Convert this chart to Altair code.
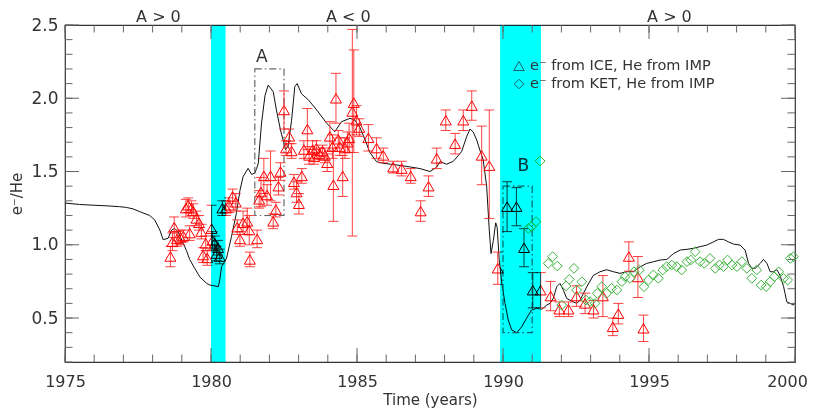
import altair as alt
import pandas as pd

# ---------------- data ----------------
# model curve (black line)
line_year = [1975.00, 1975.5, 1976.0, 1976.5, 1976.87, 1977.1, 1977.33, 1977.56, 1977.9, 1978.07,
             1978.25, 1978.36, 1978.53, 1978.65, 1978.76, 1978.87, 1979.05, 1979.16, 1979.27, 1979.44,
             1979.62, 1979.85, 1979.96, 1980.07, 1980.25, 1980.30, 1980.36, 1980.45, 1980.53, 1980.70,
             1980.87, 1980.99, 1981.10, 1981.27, 1981.39, 1981.50, 1981.56, 1981.62, 1981.73, 1981.85,
             1981.96, 1982.13, 1982.24, 1982.38, 1982.47, 1982.55, 1982.64, 1982.76, 1982.87, 1982.95,
             1983.10, 1983.33, 1983.62, 1983.96, 1984.24, 1984.47, 1984.76, 1984.93, 1985.10, 1985.27,
             1985.44, 1985.67, 1985.90, 1986.24, 1986.70, 1987.16, 1987.50, 1987.73, 1987.84, 1988.07,
             1988.30, 1988.58, 1988.76, 1988.87, 1988.98, 1989.10, 1989.21, 1989.32, 1989.44, 1989.53,
             1989.59, 1989.67, 1989.75, 1989.80, 1989.87, 1989.96, 1990.07, 1990.18, 1990.30, 1990.47,
             1990.64, 1990.81, 1990.98, 1991.15, 1991.33, 1991.50, 1991.61, 1991.72, 1991.84, 1991.95,
             1992.07, 1992.18, 1992.41, 1992.53, 1992.64, 1992.87, 1993.09, 1993.32, 1993.55, 1993.78,
             1994.01, 1994.24, 1994.47, 1994.70, 1994.92, 1995.15, 1995.38, 1995.61, 1995.84, 1996.07,
             1996.30, 1996.52, 1996.75, 1996.98, 1997.21, 1997.38, 1997.55, 1997.72, 1997.89, 1998.12,
             1998.29, 1998.41, 1998.52, 1998.64, 1998.81, 1998.92, 1999.04, 1999.15, 1999.26, 1999.38,
             1999.49, 1999.61, 1999.72, 1999.84, 1999.93, 2000.0]
line_val = [1.285, 1.275, 1.27, 1.265, 1.26, 1.255, 1.245, 1.226, 1.20, 1.17,
            1.10, 1.035, 1.044, 1.10, 1.112, 1.089, 1.01, 0.96, 0.90, 0.84,
            0.78, 0.737, 0.725, 0.722, 0.714, 0.76, 0.85, 0.88, 0.907, 1.055,
            1.214, 1.37, 1.465, 1.522, 1.48, 1.49, 1.52, 1.556, 1.83, 2.02,
            2.09, 2.045, 1.92, 1.783, 1.715, 1.65, 1.67, 1.85, 2.08, 2.10,
            2.03, 1.99, 1.92, 1.83, 1.772, 1.84, 1.863, 1.85, 1.80, 1.72,
            1.63, 1.567, 1.556, 1.548, 1.535, 1.52, 1.50, 1.53, 1.567, 1.55,
            1.57, 1.635, 1.74, 1.79, 1.77, 1.715, 1.645, 1.58, 1.40, 1.10,
            0.94, 1.03, 1.15, 1.12, 0.90, 0.736, 0.60, 0.486, 0.418, 0.40,
            0.44, 0.50, 0.555, 0.566, 0.56, 0.589, 0.60, 0.634, 0.714, 0.736,
            0.69, 0.634, 0.61, 0.60, 0.623, 0.714, 0.79, 0.816, 0.83, 0.816,
            0.805, 0.816, 0.816, 0.85, 0.873, 0.884, 0.896, 0.90, 0.94, 0.964,
            0.969, 0.976, 0.987, 0.998, 1.02, 1.037, 1.037, 1.02, 1.005, 0.998,
            0.964, 0.873, 0.84, 0.84, 0.873, 0.90, 0.873, 0.816, 0.816, 0.83,
            0.79, 0.714, 0.61, 0.60, 0.589, 0.60]

# e- from ICE, He from IMP (red triangles with error bars)
ice_year = [1978.61, 1978.68, 1978.74, 1978.84, 1978.95, 1979.05, 1979.14, 1979.22, 1979.27, 1979.33,
            1979.39, 1979.50, 1979.59, 1979.67, 1979.73, 1979.82, 1979.87, 1980.02, 1980.05, 1980.13,
            1980.19, 1980.24, 1980.30, 1980.39, 1980.51, 1980.62, 1980.74, 1980.85, 1980.90, 1980.99,
            1981.10, 1981.24, 1981.31, 1981.33, 1981.58, 1981.65, 1981.71, 1981.81, 1981.92, 1982.04,
            1982.13, 1982.22, 1982.31, 1982.38, 1982.50, 1982.57, 1982.68, 1982.76, 1982.84, 1982.93,
            1983.01, 1983.11, 1983.18, 1983.30, 1983.36, 1983.48, 1983.53, 1983.61, 1983.71, 1983.82,
            1983.90, 1983.98, 1984.07, 1984.16, 1984.19, 1984.28, 1984.36, 1984.41, 1984.51, 1984.59,
            1984.67, 1984.73, 1984.84, 1984.89, 1984.98, 1985.08, 1985.39, 1985.67, 1985.90, 1986.24,
            1986.53, 1986.84, 1987.18, 1987.45, 1987.73, 1988.04, 1988.36, 1988.64, 1988.93, 1989.27,
            1989.53, 1989.82, 1990.14, 1990.46, 1990.72, 1991.02, 1991.29, 1991.63, 1991.93, 1992.24,
            1992.52, 1992.81, 1993.10, 1993.42, 1993.76, 1993.95, 1994.31, 1994.62, 1994.81]
ice_val = [0.92, 1.02, 1.12, 1.04, 1.05, 1.06, 1.25, 1.27, 1.08, 1.25,
           1.23, 1.18, 1.15, 1.09, 0.93, 1.01, 0.91, 1.11, 1.03, 1.01,
           0.94, 0.98, 0.92, 1.25, 1.25, 1.27, 1.33, 1.29, 1.12, 1.04,
           1.15, 1.16, 1.10, 0.90, 1.04, 1.31, 1.36, 1.47, 1.34, 1.47,
           1.16, 1.24, 1.40, 1.50, 1.92, 1.66, 1.74, 1.64, 1.43, 1.36,
           1.28, 1.47, 1.65, 1.79, 1.61, 1.65, 1.60, 1.66, 1.62, 1.64,
           1.61, 1.56, 1.74, 1.67, 1.41, 2.00, 1.72, 1.67, 1.47, 1.66,
           1.70, 1.73, 1.91, 1.97, 1.85, 1.80, 1.73, 1.66, 1.61, 1.53,
           1.52, 1.47, 1.23, 1.40, 1.59, 1.85, 1.69, 1.85, 1.95, 1.61,
           1.54, 0.84, 1.26, 1.26, 0.98, 0.69, 0.69, 0.65, 0.56, 0.56,
           0.65, 0.60, 0.56, 0.65, 0.44, 0.53, 0.92, 0.78, 0.43]
ice_lo = [0.85, 0.96, 1.05, 0.99, 1.00, 1.02, 1.19, 1.22, 1.03, 1.20,
          1.18, 1.13, 1.10, 1.04, 0.88, 0.96, 0.86, 1.00, 0.97, 0.96,
          0.89, 0.93, 0.87, 1.20, 1.20, 1.22, 1.28, 1.23, 1.07, 0.99,
          1.07, 1.07, 1.00, 0.85, 0.98, 1.25, 1.26, 1.35, 1.27, 1.30,
          1.11, 1.19, 1.34, 1.44, 1.79, 1.61, 1.69, 1.59, 1.38, 1.29,
          1.21, 1.42, 1.59, 1.65, 1.55, 1.59, 1.55, 1.61, 1.58, 1.60,
          1.56, 1.50, 1.64, 1.59, 1.16, 1.83, 1.66, 1.61, 1.33, 1.59,
          1.63, 1.63, 1.06, 1.63, 1.75, 1.74, 1.64, 1.59, 1.56, 1.49,
          1.47, 1.42, 1.16, 1.33, 1.52, 1.78, 1.62, 1.78, 1.85, 1.41,
          1.18, 0.73, 1.09, 1.13, 0.85, 0.57, 0.57, 0.55, 0.51, 0.51,
          0.58, 0.53, 0.50, 0.51, 0.38, 0.46, 0.82, 0.64, 0.34]
ice_hi = [0.99, 1.08, 1.19, 1.09, 1.10, 1.10, 1.31, 1.32, 1.13, 1.30,
          1.28, 1.23, 1.20, 1.14, 0.98, 1.06, 0.96, 1.27, 1.09, 1.06,
          0.99, 1.03, 0.97, 1.30, 1.30, 1.32, 1.38, 1.35, 1.17, 1.09,
          1.23, 1.25, 1.20, 0.95, 1.10, 1.37, 1.46, 1.59, 1.41, 1.64,
          1.21, 1.29, 1.46, 1.56, 2.05, 1.71, 1.79, 1.69, 1.48, 1.43,
          1.35, 1.52, 1.71, 1.93, 1.67, 1.71, 1.65, 1.71, 1.66, 1.68,
          1.66, 1.62, 1.84, 1.75, 1.66, 2.17, 1.78, 1.73, 1.61, 1.73,
          1.77, 1.83, 2.47, 2.33, 1.95, 1.86, 1.82, 1.73, 1.66, 1.57,
          1.57, 1.52, 1.30, 1.47, 1.66, 1.92, 1.76, 1.92, 2.05, 1.81,
          1.92, 0.95, 1.43, 1.39, 1.11, 0.81, 0.81, 0.75, 0.61, 0.61,
          0.72, 0.67, 0.62, 0.79, 0.50, 0.60, 1.02, 0.92, 0.52]

# e- from KET, He from IMP (green diamonds)
ket_year = [1990.87, 1990.98, 1991.13, 1991.27, 1991.55, 1991.70, 1991.86, 1992.01, 1992.16, 1992.27,
            1992.43, 1992.52, 1992.70, 1992.84, 1992.98, 1993.15, 1993.23, 1993.38, 1993.55, 1993.72,
            1993.90, 1994.07, 1994.18, 1994.35, 1994.49, 1994.67, 1994.83, 1994.98, 1995.15, 1995.32,
            1995.47, 1995.61, 1995.78, 1995.95, 1996.12, 1996.30, 1996.43, 1996.58, 1996.75, 1996.89,
            1997.09, 1997.27, 1997.41, 1997.55, 1997.69, 1997.84, 1998.01, 1998.18, 1998.35, 1998.52,
            1998.69, 1998.84, 1999.01, 1999.15, 1999.29, 1999.44, 1999.61, 1999.75, 1999.84, 1999.95]
ket_val = [1.112, 1.123, 1.158, 1.572, 0.873, 0.919, 0.855, 0.589, 0.719, 0.764,
           0.839, 0.691, 0.748, 0.623, 0.612, 0.600, 0.669, 0.714, 0.669, 0.703,
           0.691, 0.748, 0.782, 0.771, 0.816, 0.828, 0.714, 0.759, 0.794, 0.771,
           0.828, 0.851, 0.862, 0.851, 0.828, 0.885, 0.896, 0.953, 0.885, 0.873,
           0.907, 0.839, 0.862, 0.851, 0.896, 0.862, 0.851, 0.885, 0.839, 0.771,
           0.828, 0.725, 0.714, 0.748, 0.782, 0.816, 0.771, 0.759, 0.907, 0.919]

# shaded periods, annotation boxes, polarity labels
band_start = [1980.0, 1989.9]
band_end = [1980.5, 1991.3]
box_name = ["A", "B"]
box_x1 = [1981.5, 1990.0]
box_x2 = [1982.5, 1991.0]
box_y1 = [1.2, 0.4]
box_y2 = [2.2, 1.4]
box_label_x = [1981.74, 1990.7]
box_label_y = [2.28, 1.54]
polarity_text = ["A > 0", "A < 0", "A > 0"]
polarity_year = [1978.2, 1984.7, 1995.7]

x_ticks = [1975, 1980, 1985, 1990, 1995, 2000]
y_ticks = [0.5, 1.0, 1.5, 2.0, 2.5]
x_minor = list(range(1975, 2001))
y_minor = [round(0.2 + 0.1 * i, 1) for i in range(24)]

# ---------------- chart ----------------
W, H = 730, 337
FONT = "DejaVu Sans"
TXT = "#333333"
TICKC = "#666666"
xs = alt.Scale(domain=[1975, 2000], nice=False, zero=False)
ys = alt.Scale(domain=[0.2, 2.5], nice=False, zero=False)

line_df = pd.DataFrame({"year": line_year, "val": line_val})
ice_df = pd.DataFrame({"year": ice_year, "val": ice_val, "lo": ice_lo, "hi": ice_hi})
ket_df = pd.DataFrame({"year": ket_year, "val": ket_val})
band_df = pd.DataFrame({"x1": band_start, "x2": band_end})
box_df = pd.DataFrame({"name": box_name, "x1": box_x1, "x2": box_x2, "y1": box_y1, "y2": box_y2,
                       "lx": box_label_x, "ly": box_label_y})
pol_df = pd.DataFrame({"t": polarity_text, "year": polarity_year})

base_x = alt.X("year:Q", scale=xs, axis=None)
base_y = alt.Y("val:Q", scale=ys, axis=None)

axes = alt.Chart(line_df).mark_line(opacity=0).encode(
    x=alt.X("year:Q", scale=xs, title="Time (years)",
            axis=alt.Axis(values=x_ticks, format="d", tickSize=0, domain=False, grid=False,
                          labelFlush=False, labelOverlap=False,
                          labelOffset={"expr": "datum.value == 2000 ? -8 : 0"},
                          labelFont=FONT, labelFontSize=16, labelColor=TXT, labelPadding=11,
                          titleFont=FONT, titleFontSize=15, titleFontWeight="normal",
                          titleColor=TXT, titlePadding=3)),
    y=alt.Y("val:Q", scale=ys, title="e⁻/He",
            axis=alt.Axis(values=y_ticks, format=".1f", tickSize=0, domain=False, grid=False,
                          labelFlush=False, labelOverlap=False,
                          labelFont=FONT, labelFontSize=17, labelColor=TXT, labelPadding=7,
                          titleFont=FONT, titleFontSize=15, titleFontWeight="normal",
                          titleColor=TXT, titlePadding=6, titleAngle=270)),
)

model = alt.Chart(line_df).mark_line(color="#111111", strokeWidth=1).encode(x=base_x, y=base_y)

boxes = alt.Chart(box_df).mark_rect(fillOpacity=0, stroke="#666666", strokeWidth=1.2,
                                    strokeDash=[7, 3, 1.5, 3]).encode(
    x=alt.X("x1:Q", scale=xs, axis=None), x2="x2:Q",
    y=alt.Y("y1:Q", scale=ys, axis=None), y2="y2:Q")

box_text = alt.Chart(box_df).mark_text(font=FONT, fontSize=17, color=TXT).encode(
    x=alt.X("lx:Q", scale=xs, axis=None), y=alt.Y("ly:Q", scale=ys, axis=None), text="name:N")

err = alt.Chart(ice_df).mark_rule(color="#ff2020", strokeWidth=1, opacity=0.85).encode(
    x=base_x, y=alt.Y("lo:Q", scale=ys, axis=None), y2="hi:Q")
cap_shape = "M -1 0 L 1 0"
cap_lo = alt.Chart(ice_df).mark_point(shape=cap_shape, size=100, color="#ff2020",
                                      strokeWidth=1, opacity=0.85).encode(
    x=base_x, y=alt.Y("lo:Q", scale=ys, axis=None))
cap_hi = alt.Chart(ice_df).mark_point(shape=cap_shape, size=100, color="#ff2020",
                                      strokeWidth=1, opacity=0.85).encode(
    x=base_x, y=alt.Y("hi:Q", scale=ys, axis=None))
tri = alt.Chart(ice_df).mark_point(shape="triangle-up", size=120, color="#ff0000",
                                   strokeWidth=1, opacity=1).encode(x=base_x, y=base_y)
dia = alt.Chart(ket_df).mark_point(shape="diamond", size=95, color="#3cb43c",
                                   strokeWidth=1, opacity=1).encode(x=base_x, y=base_y)

bands = alt.Chart(band_df).mark_rect(color="#00ffff", opacity=1, blend="multiply").encode(
    x=alt.X("x1:Q", scale=xs, axis=None), x2="x2:Q")

xmaj_df = pd.DataFrame({"year": x_ticks})
xmin_df = pd.DataFrame({"year": x_minor})
ymaj_df = pd.DataFrame({"val": y_ticks})
ymin_df = pd.DataFrame({"val": y_minor})

def xtick(df, length, top):
    y0, y1 = (0, length) if top else (H, H - length)
    return alt.Chart(df).mark_rule(color=TICKC, strokeWidth=1).encode(
        x=base_x, y=alt.value(y0), y2=alt.value(y1))

def ytick(df, length, right):
    x0, x1 = (W, W - length) if right else (0, length)
    return alt.Chart(df).mark_rule(color=TICKC, strokeWidth=1).encode(
        y=base_y, x=alt.value(x0), x2=alt.value(x1))

ticks = [xtick(xmin_df, 7.5, False), xtick(xmin_df, 7.5, True),
         xtick(xmaj_df, 14, False), xtick(xmaj_df, 14, True),
         ytick(ymin_df, 7.5, False), ytick(ymin_df, 7.5, True),
         ytick(ymaj_df, 14, False), ytick(ymaj_df, 14, True)]

pol = alt.Chart(pol_df).mark_text(font=FONT, fontSize=16, color=TXT, baseline="middle").encode(
    x=base_x, y=alt.value(-8), text="t:N")

leg_df = pd.DataFrame({"label": ["e⁻ from ICE, He from IMP", "e⁻ from KET, He from IMP"]})
leg_sym_t = alt.Chart(leg_df.iloc[[0]]).mark_point(shape="triangle-up", size=110, color="#222222",
                                                   strokeWidth=1).encode(
    x=alt.value(454), y=alt.value(41))
leg_sym_d = alt.Chart(leg_df.iloc[[1]]).mark_point(shape="diamond", size=90, color="#222222",
                                                   strokeWidth=1).encode(
    x=alt.value(454), y=alt.value(59))
leg_txt_1 = alt.Chart(leg_df.iloc[[0]]).mark_text(font=FONT, fontSize=14.5, color=TXT, align="left",
                                                  baseline="middle").encode(
    x=alt.value(465), y=alt.value(41), text="label:N")
leg_txt_2 = alt.Chart(leg_df.iloc[[1]]).mark_text(font=FONT, fontSize=14.5, color=TXT, align="left",
                                                  baseline="middle").encode(
    x=alt.value(465), y=alt.value(59), text="label:N")

chart = alt.layer(
    axes, model, boxes, box_text, err, cap_lo, cap_hi, tri, dia, bands, *ticks, pol,
    leg_sym_t, leg_sym_d, leg_txt_1, leg_txt_2
).resolve_axis(x="independent", y="independent").properties(
    width=W, height=H,
    autosize=alt.AutoSizeParams(type="none"),
    padding={"left": 57, "top": 17, "right": 14, "bottom": 46},
    background="white",
).configure_view(stroke="#333333", strokeWidth=1.2)

chart.save("out.html", embed_options={"renderer": "svg", "actions": False})
